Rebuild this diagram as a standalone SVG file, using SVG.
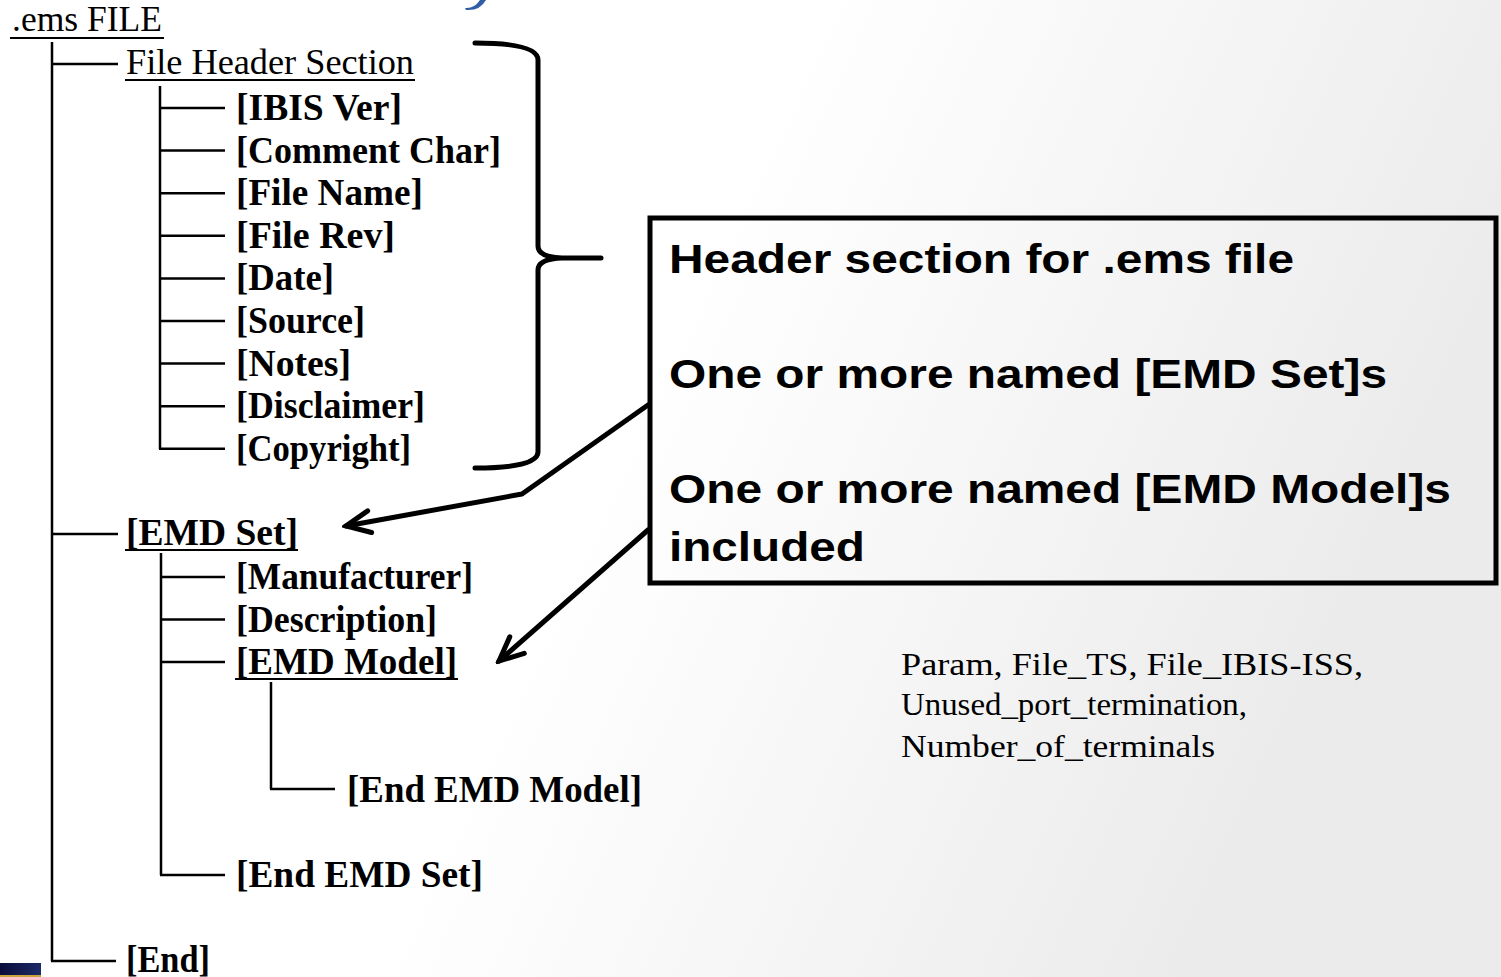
<svg xmlns="http://www.w3.org/2000/svg" width="1501" height="977" viewBox="0 0 1501 977">
  <defs>
    <linearGradient id="bg" x1="0" y1="0" x2="1" y2="0.3">
      <stop offset="0" stop-color="#ffffff"/>
      <stop offset="0.5" stop-color="#ffffff"/>
      <stop offset="1" stop-color="#ebebeb"/>
    </linearGradient>
    <linearGradient id="navy" x1="0" y1="0" x2="1" y2="0">
      <stop offset="0" stop-color="#0b0b3a"/>
      <stop offset="1" stop-color="#1d2a66"/>
    </linearGradient>
    <marker id="arr" markerUnits="userSpaceOnUse" viewBox="-32 -16 36 32" markerWidth="36" markerHeight="32" refX="0" refY="0" orient="auto">
      <path d="M -24 -11 L 0 0 L -24 11" fill="none" stroke="#000" stroke-width="5" stroke-linecap="round" stroke-linejoin="miter"/>
    </marker>
    <style>
      .tr { font-family: "Liberation Serif", "Times New Roman", serif; font-size: 35px; fill: #000; }
      .trb { font-family: "Liberation Serif", "Times New Roman", serif; font-size: 37px; font-weight: bold; fill: #000; }
      .box { font-family: "Liberation Sans", Arial, sans-serif; font-size: 41px; font-weight: bold; fill: #000; }
      .note { font-family: "Liberation Serif", "Times New Roman", serif; font-size: 32px; fill: #000; }
      .tl { stroke: #000; stroke-width: 2.5; fill: none; }
      .ul { stroke: #000; stroke-width: 2; }
      .thick { stroke: #000; stroke-width: 5; fill: none; stroke-linecap: round; stroke-linejoin: round; }
    </style>
  </defs>

  <rect x="0" y="0" width="1501" height="977" fill="url(#bg)"/>
  <!-- cut-off title remnant -->
  <path d="M 465 8 Q 474 9 480 0 L 486 0 Q 480 11 466 10 Z" fill="#2f5ea6"/>
  <!-- bottom-left band -->
  <rect x="0" y="963" width="41" height="12" fill="url(#navy)"/>
  <rect x="0" y="975" width="41" height="2" fill="#c8a23a"/>

  <g id="connectors">
    <!-- main trunk -->
    <line class="tl" x1="52" y1="42" x2="52" y2="961"/>
    <line class="tl" x1="51" y1="64" x2="118" y2="64"/>
    <line class="tl" x1="51" y1="534" x2="118" y2="534"/>
    <line class="tl" x1="51" y1="961" x2="116" y2="961"/>
    <!-- header subtree -->
    <line class="tl" x1="160" y1="86" x2="160" y2="449"/>
    <line class="tl" x1="159" y1="108" x2="225" y2="108"/>
    <line class="tl" x1="159" y1="150.6" x2="225" y2="150.6"/>
    <line class="tl" x1="159" y1="193.2" x2="225" y2="193.2"/>
    <line class="tl" x1="159" y1="235.8" x2="225" y2="235.8"/>
    <line class="tl" x1="159" y1="278.4" x2="225" y2="278.4"/>
    <line class="tl" x1="159" y1="321" x2="225" y2="321"/>
    <line class="tl" x1="159" y1="363.6" x2="225" y2="363.6"/>
    <line class="tl" x1="159" y1="406.2" x2="225" y2="406.2"/>
    <line class="tl" x1="159" y1="448.8" x2="225" y2="448.8"/>
    <!-- EMD set subtree -->
    <line class="tl" x1="161" y1="553" x2="161" y2="875"/>
    <line class="tl" x1="160" y1="577" x2="225" y2="577"/>
    <line class="tl" x1="160" y1="619.5" x2="225" y2="619.5"/>
    <line class="tl" x1="160" y1="662" x2="225" y2="662"/>
    <line class="tl" x1="160" y1="875" x2="225" y2="875"/>
    <!-- EMD model subtree -->
    <line class="tl" x1="271" y1="682" x2="271" y2="789"/>
    <line class="tl" x1="270" y1="789" x2="335" y2="789"/>
    <!-- brace -->
    <path class="thick" d="M 475 43 Q 538 43 538 60 L 538 246 Q 538 257 562 258 L 601 258 M 562 258 Q 538 259 538 270 L 538 452 Q 538 468 475 468"/>
    <!-- arrows -->
    <polyline class="thick" points="648,405 522,494 346,526" marker-end="url(#arr)"/>
    <line class="thick" x1="648" y1="530" x2="499" y2="661" marker-end="url(#arr)"/>
  </g>

  <g id="node-ems-file">
    <text class="tr" x="12" y="31" textLength="150" lengthAdjust="spacingAndGlyphs">.ems FILE</text>
    <line class="ul" x1="10" y1="38" x2="164" y2="38"/>
  </g>
  <g id="node-file-header">
    <text class="tr" x="126" y="74" textLength="288" lengthAdjust="spacingAndGlyphs">File Header Section</text>
    <line class="ul" x1="125" y1="80" x2="415" y2="80"/>
  </g>
  <g id="node-ibis-ver"><text class="trb" x="236" y="120" textLength="166" lengthAdjust="spacingAndGlyphs">[IBIS Ver]</text></g>
  <g id="node-comment-char"><text class="trb" x="236" y="162.6" textLength="265" lengthAdjust="spacingAndGlyphs">[Comment Char]</text></g>
  <g id="node-file-name"><text class="trb" x="236" y="205.2" textLength="187" lengthAdjust="spacingAndGlyphs">[File Name]</text></g>
  <g id="node-file-rev"><text class="trb" x="236" y="247.8" textLength="159" lengthAdjust="spacingAndGlyphs">[File Rev]</text></g>
  <g id="node-date"><text class="trb" x="236" y="290.4" textLength="98" lengthAdjust="spacingAndGlyphs">[Date]</text></g>
  <g id="node-source"><text class="trb" x="236" y="333" textLength="129" lengthAdjust="spacingAndGlyphs">[Source]</text></g>
  <g id="node-notes"><text class="trb" x="236" y="375.6" textLength="115" lengthAdjust="spacingAndGlyphs">[Notes]</text></g>
  <g id="node-disclaimer"><text class="trb" x="236" y="418.2" textLength="189" lengthAdjust="spacingAndGlyphs">[Disclaimer]</text></g>
  <g id="node-copyright"><text class="trb" x="236" y="460.8" textLength="175" lengthAdjust="spacingAndGlyphs">[Copyright]</text></g>

  <g id="node-emd-set">
    <text class="trb" x="126" y="545" textLength="172" lengthAdjust="spacingAndGlyphs">[EMD Set]</text>
    <line class="ul" x1="125" y1="550" x2="298" y2="550"/>
  </g>
  <g id="node-manufacturer"><text class="trb" x="236" y="589" textLength="237" lengthAdjust="spacingAndGlyphs">[Manufacturer]</text></g>
  <g id="node-description"><text class="trb" x="236" y="631.5" textLength="201" lengthAdjust="spacingAndGlyphs">[Description]</text></g>
  <g id="node-emd-model">
    <text class="trb" x="236" y="674" textLength="221" lengthAdjust="spacingAndGlyphs">[EMD Model]</text>
    <line class="ul" x1="235" y1="679" x2="458" y2="679"/>
  </g>
  <g id="node-end-emd-model"><text class="trb" x="347" y="802" textLength="295" lengthAdjust="spacingAndGlyphs">[End EMD Model]</text></g>
  <g id="node-end-emd-set"><text class="trb" x="236" y="887" textLength="247" lengthAdjust="spacingAndGlyphs">[End EMD Set]</text></g>
  <g id="node-end"><text class="trb" x="126" y="972" textLength="84" lengthAdjust="spacingAndGlyphs">[End]</text></g>

  <g id="node-callout">
    <rect x="650" y="218" width="846" height="365" fill="none" stroke="#000" stroke-width="5"/>
    <text class="box" x="669" y="273" textLength="625" lengthAdjust="spacingAndGlyphs">Header section for .ems file</text>
    <text class="box" x="669" y="388" textLength="718" lengthAdjust="spacingAndGlyphs">One or more named [EMD Set]s</text>
    <text class="box" x="669" y="503" textLength="782" lengthAdjust="spacingAndGlyphs">One or more named [EMD Model]s</text>
    <text class="box" x="669" y="561" textLength="196" lengthAdjust="spacingAndGlyphs">included</text>
  </g>

  <g id="node-params">
    <text class="note" x="901" y="675" textLength="462" lengthAdjust="spacingAndGlyphs">Param, File_TS, File_IBIS-ISS,</text>
    <text class="note" x="901" y="715" textLength="346" lengthAdjust="spacingAndGlyphs">Unused_port_termination,</text>
    <text class="note" x="901" y="757" textLength="314" lengthAdjust="spacingAndGlyphs">Number_of_terminals</text>
  </g>
</svg>
